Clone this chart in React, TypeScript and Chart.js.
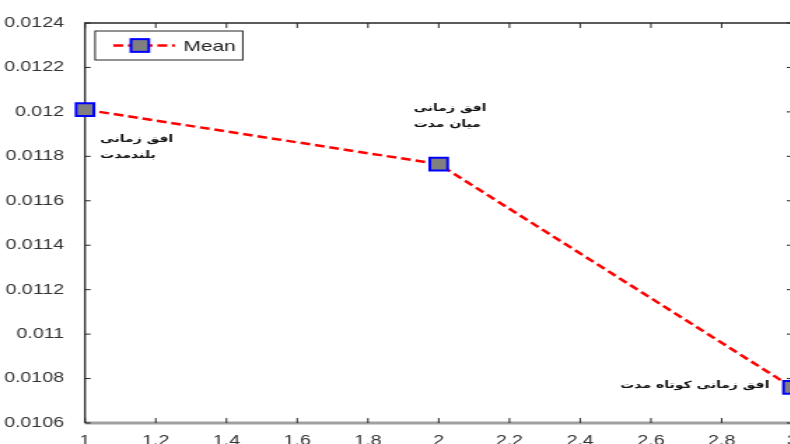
import { useEffect, useRef } from "react";
import { Chart, registerables } from "chart.js";

Chart.register(...registerables);

// Investment horizon (1 = long, 2 = medium, 3 = short) and mean value
const HORIZONS = [1, 2, 3];
const MEAN = [0.01201, 0.011765, 0.01076];
const X_TICKS = [1, 1.2, 1.4, 1.6, 1.8, 2, 2.2, 2.4, 2.6, 2.8, 3];
const Y_TICKS = [0.0106, 0.0108, 0.011, 0.0112, 0.0114, 0.0116, 0.0118, 0.012, 0.0122, 0.0124];
const SERIES_NAME = "Mean";
const HORIZON_NAMES = [["افق زمانی", "بلندمدت"], ["افق زمانی", "میان مدت"], ["افق زمانی کوتاه مدت"]];

// The figure is drawn narrow and stretched horizontally on screen
const STRETCH = 1.4;
const VIEW_W = 790;
const VIEW_H = 444;
const CANVAS_W = 572;

const TICK_FONT = { family: '"Liberation Sans", Arial, sans-serif', size: 14 };
const AXIS_COLOR = "#262626";
const TEXT_COLOR = "#333333";

// Box around the axes with inward-pointing tick marks on all four sides
const framePlugin = {
  id: "frame",
  beforeDatasetsDraw(chart: any) {
    const { ctx, chartArea: a, scales } = chart;
    ctx.save();
    ctx.strokeStyle = "#a0a0a0";
    ctx.lineWidth = 3;
    ctx.beginPath();
    ctx.moveTo(a.left, a.bottom);
    ctx.lineTo(a.right, a.bottom);
    ctx.stroke();
    ctx.strokeStyle = AXIS_COLOR;
    ctx.lineWidth = 1.3;
    ctx.beginPath();
    ctx.moveTo(a.left, a.bottom);
    ctx.lineTo(a.left, a.top);
    ctx.lineTo(a.right, a.top);
    ctx.lineTo(a.right, a.bottom);
    ctx.stroke();
    ctx.lineWidth = 1;
    ctx.beginPath();
    for (const t of scales.x.ticks) {
      const px = scales.x.getPixelForValue(t.value);
      ctx.moveTo(px, a.bottom);
      ctx.lineTo(px, a.bottom - 5);
      ctx.moveTo(px, a.top);
      ctx.lineTo(px, a.top + 5);
    }
    for (const t of scales.y.ticks) {
      const py = scales.y.getPixelForValue(t.value);
      ctx.moveTo(a.left, py);
      ctx.lineTo(a.left + 4, py);
      ctx.moveTo(a.right, py);
      ctx.lineTo(a.right - 4, py);
    }
    ctx.stroke();
    ctx.restore();
  },
};

// Text notes naming each horizon, anchored in data units
const notesPlugin = {
  id: "horizonNotes",
  afterDatasetsDraw(chart: any, _args: any, opts: any) {
    const { ctx, scales } = chart;
    ctx.save();
    ctx.fillStyle = "#111";
    ctx.font = 'bold 10px "DejaVu Sans", sans-serif';
    ctx.textBaseline = "middle";
    opts.anchors.forEach((anc: { x: number; y: number; align: CanvasTextAlign }, i: number) => {
      const lines = HORIZON_NAMES[i];
      const px = scales.x.getPixelForValue(anc.x);
      const py = scales.y.getPixelForValue(anc.y);
      const lh = 16;
      const y0 = py - ((lines.length - 1) * lh) / 2;
      ctx.textAlign = anc.align;
      lines.forEach((ln, j) => ctx.fillText(ln, px, y0 + j * lh));
    });
    ctx.restore();
  },
};

// Legend box in the upper-left corner of the axes
const legendBoxPlugin = {
  id: "legendBox",
  afterDraw(chart: any) {
    const { ctx, chartArea: a } = chart;
    const ds = chart.data.datasets[0];
    const bx = a.left + 7.2;
    const by = a.top + 8;
    const bw = 105.5;
    const bh = 29;
    const cy = by + bh / 2;
    ctx.save();
    ctx.fillStyle = "#fff";
    ctx.fillRect(bx, by, bw, bh);
    ctx.strokeStyle = AXIS_COLOR;
    ctx.lineWidth = 1;
    ctx.strokeRect(bx, by, bw, bh);
    ctx.strokeStyle = ds.borderColor;
    ctx.lineWidth = ds.borderWidth;
    ctx.setLineDash(ds.borderDash);
    ctx.beginPath();
    ctx.moveTo(bx + 13, cy);
    ctx.lineTo(bx + 57, cy);
    ctx.stroke();
    ctx.setLineDash([]);
    const s = ds.pointRadius * Math.SQRT1_2;
    const mx = bx + 32;
    ctx.fillStyle = ds.pointBackgroundColor;
    ctx.fillRect(mx - s, cy - s, 2 * s, 2 * s);
    ctx.strokeStyle = ds.pointBorderColor;
    ctx.lineWidth = ds.pointBorderWidth;
    ctx.strokeRect(mx - s, cy - s, 2 * s, 2 * s);
    ctx.fillStyle = "#222";
    ctx.font = '15px "Liberation Sans", Arial, sans-serif';
    ctx.textBaseline = "middle";
    ctx.textAlign = "left";
    ctx.fillText(ds.label, bx + 63, cy + 1);
    ctx.restore();
  },
};

export default function App() {
  const ref = useRef<HTMLCanvasElement>(null);

  useEffect(() => {
    const canvas = ref.current;
    if (!canvas) return;
    const chart = new Chart(canvas, {
      type: "line",
      data: {
        datasets: [
          {
            label: SERIES_NAME,
            data: HORIZONS.map((x, i) => ({ x, y: MEAN[i] })),
            borderColor: "#ff0000",
            borderWidth: 2.5,
            borderDash: [7, 3.5],
            pointStyle: "rect",
            pointRadius: 9,
            pointHoverRadius: 9,
            pointBackgroundColor: "#808080",
            pointBorderColor: "#0000ff",
            pointBorderWidth: 2,
            tension: 0,
            clip: false,
          } as any,
        ],
      },
      options: {
        responsive: false,
        animation: false,
        devicePixelRatio: 1,
        layout: { autoPadding: false, padding: { top: 23, right: 6, left: 0, bottom: 0 } },
        plugins: {
          legend: { display: false },
          tooltip: { enabled: false },
          horizonNotes: {
            anchors: [
              { x: 1.043, y: 0.011838, align: "left" },
              { x: 1.929, y: 0.011978, align: "left" },
              { x: 2.935, y: 0.010769, align: "right" },
            ],
          },
        } as any,
        scales: {
          x: {
            type: "linear",
            min: 1,
            max: 3,
            afterBuildTicks: (s: any) => {
              s.ticks = X_TICKS.map((v) => ({ value: v }));
            },
            afterFit: (s: any) => {
              s.height = 21;
              s.paddingLeft = 0;
              s.paddingRight = 0;
            },
            grid: { display: false },
            border: { display: false },
            ticks: {
              padding: 2,
              color: TEXT_COLOR,
              font: TICK_FONT,
              maxRotation: 0,
              autoSkip: false,
              callback: (v: any) => String(v),
            },
          },
          y: {
            type: "linear",
            min: 0.0106,
            max: 0.0124,
            afterBuildTicks: (s: any) => {
              s.ticks = Y_TICKS.map((v) => ({ value: v }));
            },
            afterFit: (s: any) => {
              s.width = 85 / STRETCH;
            },
            grid: { display: false },
            border: { display: false },
            ticks: {
              padding: 7,
              color: TEXT_COLOR,
              font: TICK_FONT,
              autoSkip: false,
              callback: (v: any) => String(Number(Number(v).toFixed(4))),
            },
          },
        },
      },
      plugins: [framePlugin, notesPlugin, legendBoxPlugin],
    });
    return () => chart.destroy();
  }, []);

  return (
    <div
      style={{
        position: "fixed",
        left: 0,
        top: 0,
        width: VIEW_W,
        height: VIEW_H,
        overflow: "hidden",
        background: "#fff",
      }}
    >
      <canvas
        ref={ref}
        width={CANVAS_W}
        height={VIEW_H}
        style={{
          display: "block",
          width: CANVAS_W,
          height: VIEW_H,
          transform: `scaleX(${STRETCH})`,
          transformOrigin: "0 0",
        }}
      />
    </div>
  );
}
